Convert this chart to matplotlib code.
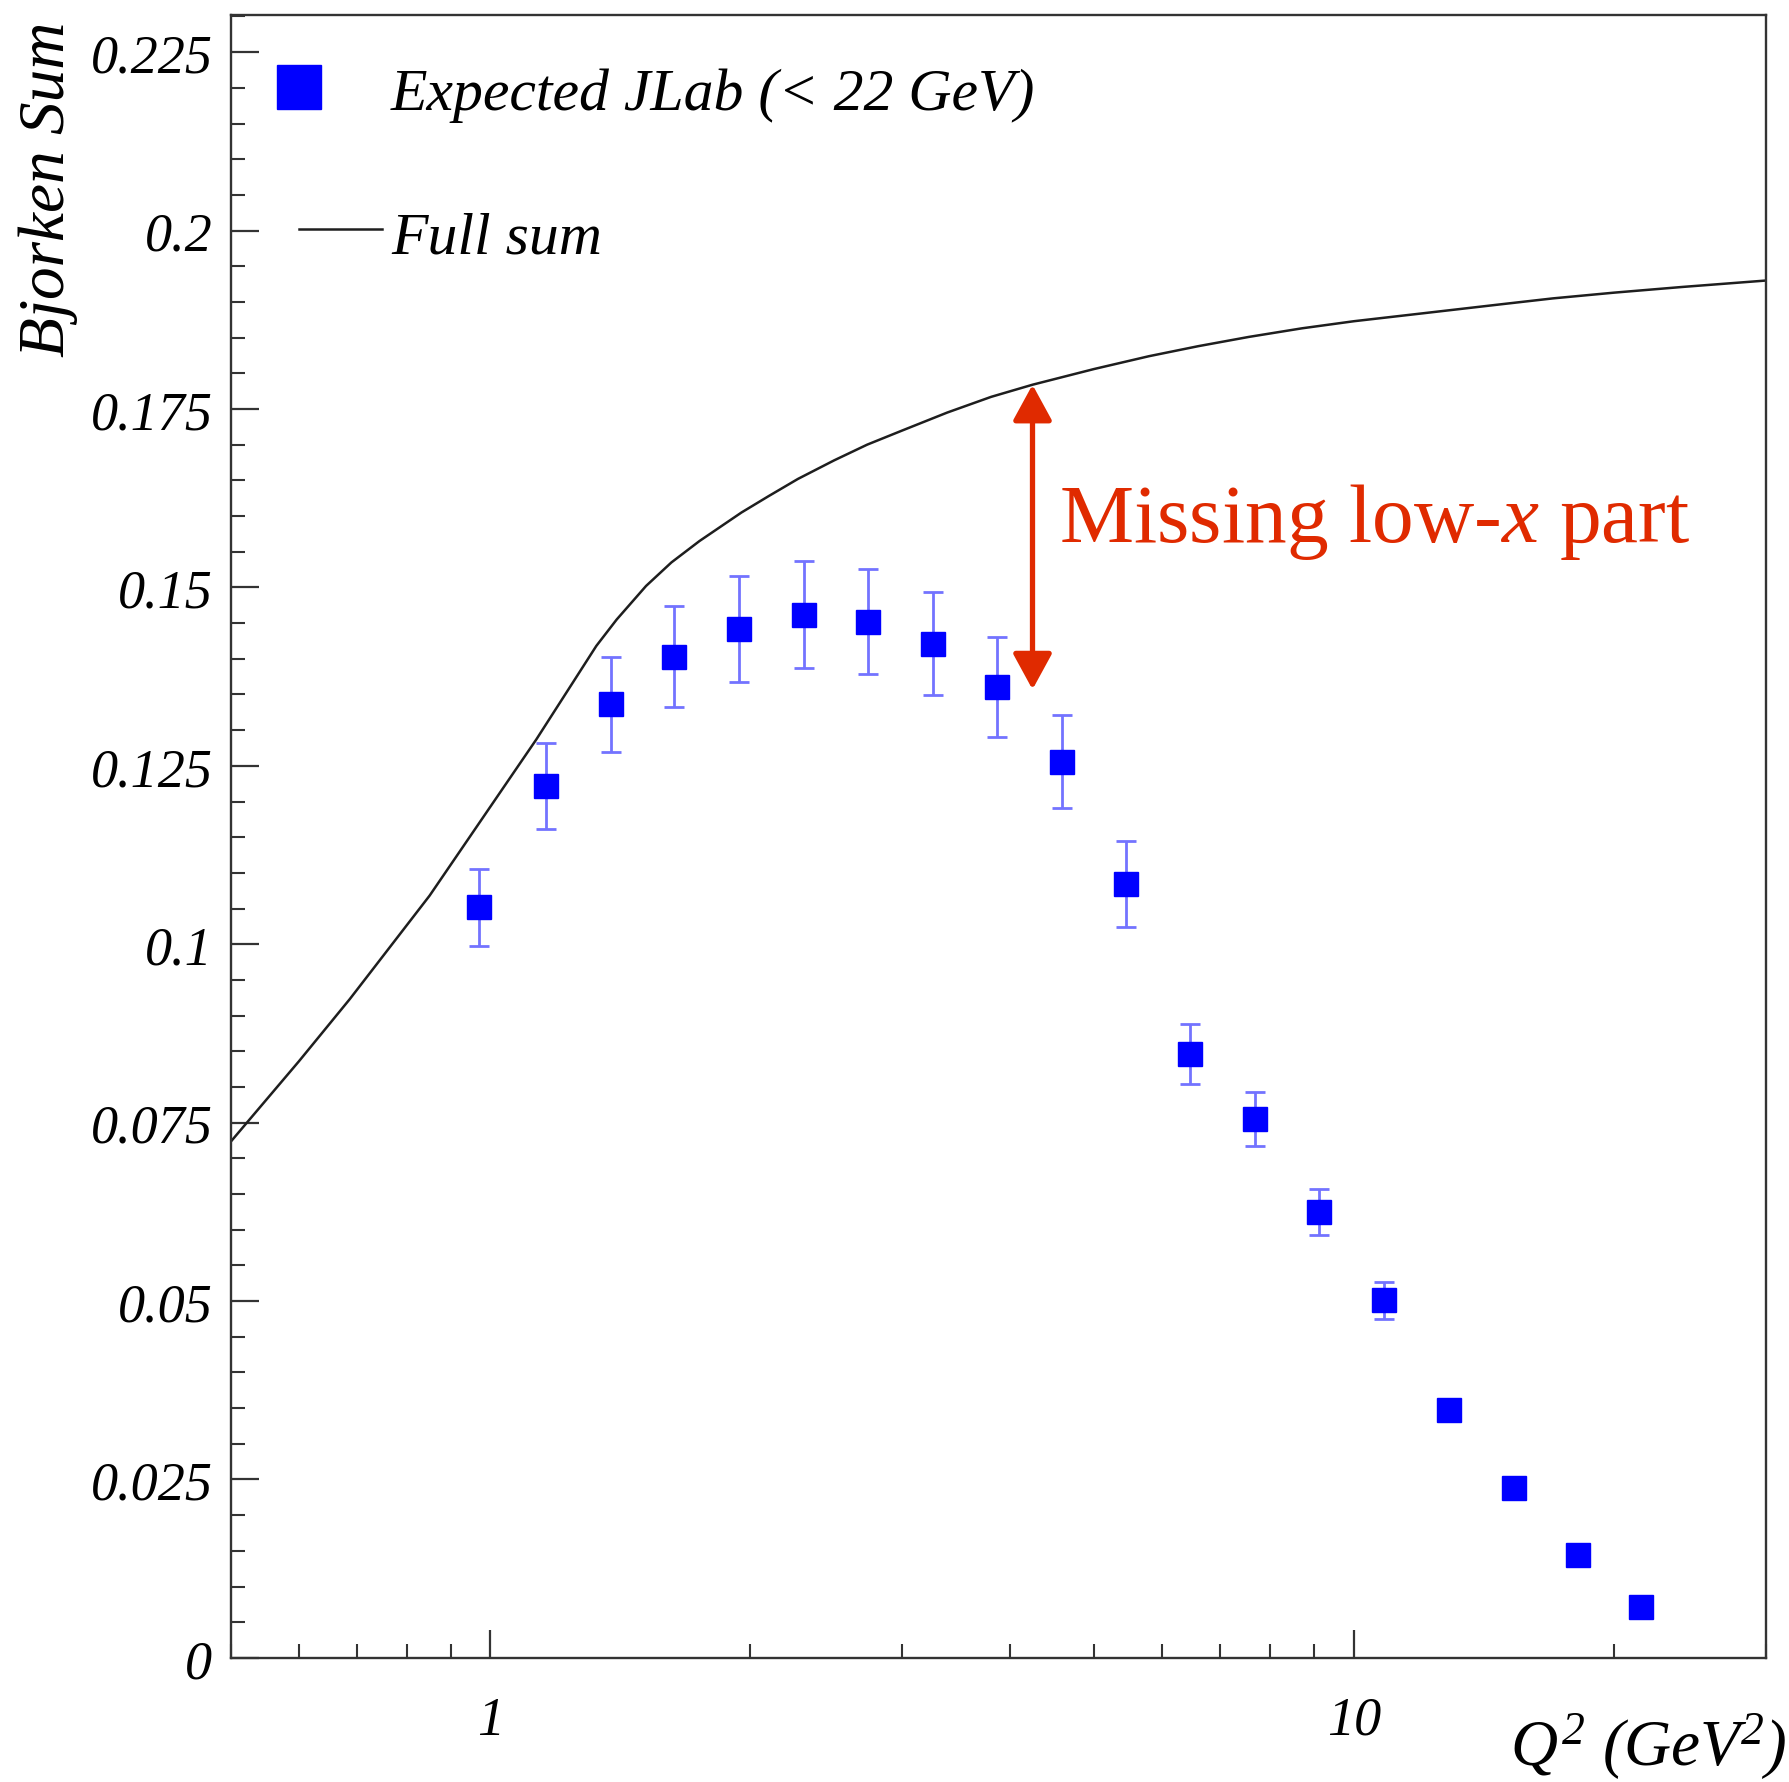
import numpy as np
import matplotlib
matplotlib.use('Agg')
import matplotlib.pyplot as plt
from matplotlib.ticker import FixedLocator, LogLocator, MultipleLocator, FuncFormatter, NullFormatter

plt.rcParams['font.family'] = ['Liberation Serif', 'DejaVu Serif']
plt.rcParams['font.style'] = 'italic'
plt.rcParams['mathtext.fontset'] = 'custom'
plt.rcParams['mathtext.rm'] = 'Liberation Serif:italic'
plt.rcParams['mathtext.it'] = 'Liberation Serif:italic'

# expected JLab points (Q^2 in GeV^2)
q2 = [0.970, 1.161, 1.380, 1.632, 1.940, 2.310, 2.737, 3.256, 3.857, 4.590,
      5.442, 6.452, 7.674, 9.10, 10.82, 12.87, 15.31, 18.15, 21.5]
bj_sum = [0.1052, 0.1222, 0.1336, 0.1403, 0.1442, 0.1462, 0.1452, 0.1421, 0.1360, 0.1256,
          0.1084, 0.0846, 0.0755, 0.0625, 0.0501, 0.0347, 0.0238, 0.0144, 0.0072]
bj_err = [0.0054, 0.0060, 0.0067, 0.0071, 0.0074, 0.0075, 0.0074, 0.0072, 0.0070, 0.0065,
          0.0060, 0.0042, 0.0038, 0.0032, 0.0026, 0.0015, 0.0008, 0.0006, 0.0004]

# full Bjorken sum curve
q2_full = [0.5, 0.6, 0.687, 0.85, 1.0, 1.13, 1.246, 1.326, 1.40, 1.514, 1.62, 1.746,
           1.953, 2.1, 2.27, 2.5, 2.73, 3.0, 3.38, 3.8, 4.243, 5.0, 5.79, 6.6,
           7.555, 8.7, 10.0, 12.0, 14.87, 17.0, 20.0, 24.0, 30.0]
full_sum = [0.0723, 0.0836, 0.0923, 0.1068, 0.1193, 0.1287, 0.1367, 0.1418, 0.1455, 0.1502, 0.1535, 0.1565,
            0.1605, 0.1628, 0.1652, 0.1678, 0.1700, 0.1720, 0.1745, 0.1767, 0.1784, 0.1806, 0.1824, 0.1838,
            0.1851, 0.1863, 0.1873, 0.1884, 0.1897, 0.1905, 0.1913, 0.1921, 0.1930]

arrow_q2 = 4.243
arrow_bottom = 0.1357
arrow_top = np.interp(np.log10(arrow_q2), np.log10(q2_full), full_sum)

blue = '#0000ff'
red = '#e02a00'

fig = plt.figure(figsize=(17.9, 17.83), dpi=100)
ax = fig.add_axes([0.1288, 0.0696, 0.8578, 0.9214])

ax.plot(q2_full, full_sum, color='#1e1e1e', lw=1.8, zorder=2)
ax.errorbar(q2, bj_sum, yerr=bj_err, fmt='none', ecolor=(0.45, 0.45, 1.0),
            elinewidth=2.0, capsize=7, capthick=2.0, zorder=3)
ax.plot(q2, bj_sum, 's', color=blue, ms=17, zorder=4)

ax.set_xscale('log')
ax.set_xlim(0.5, 30)
ax.set_ylim(0, 0.2302)

ax.xaxis.set_major_locator(FixedLocator([1, 10]))
ax.xaxis.set_minor_locator(LogLocator(base=10, subs=np.arange(2, 10)))
ax.xaxis.set_major_formatter(FuncFormatter(lambda v, p: f'{v:g}'))
ax.xaxis.set_minor_formatter(NullFormatter())
ax.yaxis.set_major_locator(MultipleLocator(0.025))
ax.yaxis.set_minor_locator(MultipleLocator(0.005))
ax.yaxis.set_major_formatter(FuncFormatter(lambda v, p: f'{v:g}'))

ax.tick_params(which='both', direction='in', top=False, right=False,
               color='#333333', labelsize=39)
ax.tick_params(which='major', length=20, width=1.6)
ax.tick_params(which='minor', length=10, width=1.5)
ax.tick_params(axis='x', which='major', pad=27)
ax.tick_params(axis='y', which='major', pad=13)
for s in ax.spines.values():
    s.set_linewidth(1.7)
    s.set_color('#333333')

# legend drawn by hand, ROOT style
ax.plot([0.0445], [0.9562], 's', color=blue, ms=32, transform=ax.transAxes, clip_on=False)
ax.text(0.1045, 0.9428, 'Expected JLab (< 22 GeV)', transform=ax.transAxes,
        fontsize=43, va='baseline', ha='left')
ax.plot([0.0445, 0.0985], [0.8697, 0.8697], color='#1e1e1e', lw=1.8, transform=ax.transAxes)
ax.text(0.1045, 0.8557, 'Full sum', transform=ax.transAxes,
        fontsize=43, va='baseline', ha='left')

# missing part annotation
ax.annotate('', xy=(arrow_q2, arrow_top), xytext=(arrow_q2, arrow_bottom),
            arrowprops=dict(arrowstyle='<|-|>,head_length=22,head_width=12',
                            mutation_scale=1, color=red, lw=3.8,
                            shrinkA=0, shrinkB=0), zorder=5)
ax.text(4.555, 0.1565, 'Missing low-$x$ part', color=red, fontsize=60,
        fontstyle='normal', va='baseline', ha='left')

fig.text(0.027, 0.988, 'Bjorken Sum', rotation=90, ha='center', va='top', fontsize=47)
fig.text(0.998, 0.0101, '$Q^2$ (GeV$^2$)', ha='right', va='baseline', fontsize=47)

fig.savefig('out.png', dpi=100)
